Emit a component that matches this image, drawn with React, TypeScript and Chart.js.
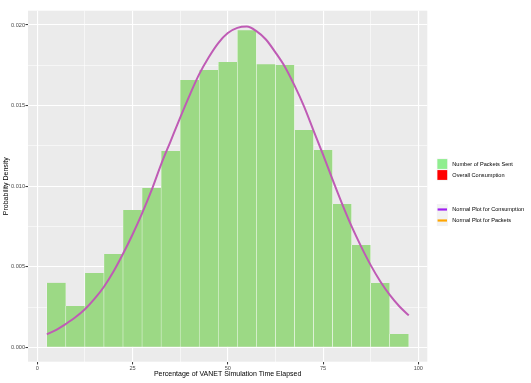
import React, { useEffect, useRef } from 'react';
import { Chart, registerables } from 'chart.js';

Chart.register(...registerables);

// ---- Data ----
const binCenters = [5, 10, 15, 20, 25, 30, 35, 40, 45, 50, 55, 60, 65, 70, 75, 80, 85, 90, 95];
const packetDensity = [
  0.0040, 0.00256, 0.00461, 0.00579, 0.00852, 0.00988, 0.01218, 0.01658, 0.0172, 0.0177,
  0.01968, 0.01757, 0.01751, 0.01348, 0.01224, 0.00889, 0.00635, 0.00399, 0.00083,
];
const curveX = [
  2.5, 5, 7.5, 10, 12.5, 15, 17.5, 20, 22.5, 25, 27.5, 30, 32.5, 35, 37.5, 40, 42.5, 45, 47.5, 50,
  52.5, 55, 57.5, 60, 62.5, 65, 67.5, 70, 72.5, 75, 77.5, 80, 82.5, 85, 87.5, 90, 92.5, 95, 97.5,
];
const curveDensity = [
  0.0008, 0.00108, 0.00145, 0.00186, 0.00236, 0.003, 0.00376, 0.0047, 0.0058, 0.007, 0.00831,
  0.00975, 0.01135, 0.0128, 0.01425, 0.01565, 0.01695, 0.018, 0.01888, 0.0195, 0.01982, 0.0199,
  0.01962, 0.0191, 0.0183, 0.0174, 0.01625, 0.01495, 0.01345, 0.01195, 0.0104, 0.0089, 0.0075,
  0.00625, 0.0051, 0.0041, 0.00325, 0.00255, 0.00198,
];
const xTickValues = [0, 12.5, 25, 37.5, 50, 62.5, 75, 87.5, 100];
const xMajorTicks = [0, 25, 50, 75, 100];
const yTickValues = [0, 0.0025, 0.005, 0.0075, 0.01, 0.0125, 0.015, 0.0175, 0.02];
const yMajorTicks = [0, 0.005, 0.01, 0.015, 0.02];

const barLegend = [
  { label: 'Number of Packets Sent', color: '#90EE90' },
  { label: 'Overall Consumption', color: '#FF0000' },
];
const lineLegend = [
  { label: 'Normal Plot for Consumption', color: '#A020F0' },
  { label: 'Normal Plot for Packets', color: '#FFA500' },
];

const FONT = "'Liberation Sans', Arial, sans-serif";

const isMajor = (v: number, list: number[]) => list.some((m) => Math.abs(m - v) < 1e-9);

const panelBackground = {
  id: 'panelBackground',
  beforeDraw(chart: any) {
    const { ctx, chartArea } = chart;
    const { left, top, right, bottom } = chartArea;
    ctx.save();
    ctx.fillStyle = '#FFFFFF';
    ctx.fillRect(0, 0, chart.width, chart.height);
    ctx.fillStyle = '#EBEBEB';
    ctx.fillRect(left, top, right - left, bottom - top);
    ctx.restore();
  },
};

const customLegend = {
  id: 'customLegend',
  afterDraw(chart: any) {
    const { ctx, chartArea } = chart;
    const keyX = chartArea.right + 9.5;
    const keySize = 11;
    const textX = keyX + keySize + 4.5;
    ctx.save();
    ctx.font = `5.6px ${FONT}`;
    ctx.textBaseline = 'middle';
    ctx.textAlign = 'left';
    // bar legend
    let y = 158.5;
    barLegend.forEach((item) => {
      ctx.fillStyle = '#F2F2F2';
      ctx.fillRect(keyX, y, keySize, keySize);
      ctx.fillStyle = item.color;
      ctx.fillRect(keyX + 0.6, y + 0.6, keySize - 1.2, keySize - 1.2);
      ctx.fillStyle = '#000000';
      ctx.fillText(item.label, textX, y + keySize / 2);
      y += keySize;
    });
    // line legend
    y = 204;
    lineLegend.forEach((item) => {
      ctx.fillStyle = '#F2F2F2';
      ctx.fillRect(keyX, y, keySize, keySize);
      ctx.strokeStyle = item.color;
      ctx.lineWidth = 2.2;
      ctx.beginPath();
      ctx.moveTo(keyX + 0.8, y + keySize / 2);
      ctx.lineTo(keyX + keySize - 0.8, y + keySize / 2);
      ctx.stroke();
      ctx.fillStyle = '#000000';
      ctx.fillText(item.label, textX, y + keySize / 2);
      y += keySize;
    });
    ctx.restore();
  },
};

export default function App() {
  const canvasRef = useRef<HTMLCanvasElement | null>(null);

  useEffect(() => {
    const canvas = canvasRef.current;
    if (!canvas) return;
    const chart = new Chart(canvas, {
      type: 'bar',
      data: {
        datasets: [
          {
            type: 'bar',
            label: 'Number of Packets Sent',
            data: binCenters.map((x, i) => ({ x, y: packetDensity[i] })),
            backgroundColor: '#9CD985',
            borderColor: '#FFFFFF',
            borderWidth: { left: 0.5, right: 0.5, top: 0, bottom: 0 } as any,
            borderSkipped: false,
            barPercentage: 1,
            categoryPercentage: 1,
            order: 2,
          },
          {
            type: 'line',
            label: 'Normal Plot',
            data: curveX.map((x, i) => ({ x, y: curveDensity[i] })),
            borderColor: '#BF5BB5',
            borderWidth: 2,
            pointRadius: 0,
            cubicInterpolationMode: 'monotone',
            fill: false,
            order: 1,
          } as any,
        ],
      },
      options: {
        responsive: false,
        animation: false,
        maintainAspectRatio: false,
        layout: { padding: { left: 0, top: 10.7, right: 103.7, bottom: 0 } },
        plugins: {
          legend: { display: false },
          tooltip: { enabled: false },
          title: { display: false },
        },
        scales: {
          x: {
            type: 'linear',
            min: -2.44,
            max: 102.36,
            offset: false,
            afterBuildTicks: (scale: any) => {
              scale.ticks = xTickValues.map((v) => ({ value: v }));
            },
            afterFit: (scale: any) => {
              scale.height = 21.3;
            },
            border: { display: false },
            grid: {
              offset: false,
              color: '#FFFFFF',
              lineWidth: (c: any) => (isMajor(c.tick?.value, xMajorTicks) ? 1.1 : 0.55),
              drawTicks: true,
              tickLength: 2.7,
              tickColor: (c: any) => (isMajor(c.tick?.value, xMajorTicks) ? '#333333' : 'rgba(0,0,0,0)'),
              tickWidth: 1,
            },
            ticks: {
              autoSkip: false,
              maxRotation: 0,
              padding: 1,
              color: '#4D4D4D',
              font: { family: FONT, size: 5.6 },
              callback: (v: any) => (isMajor(Number(v), xMajorTicks) ? String(v) : ''),
            },
            title: {
              display: true,
              text: 'Percentage of VANET Simulation Time Elapsed',
              color: '#000000',
              font: { family: FONT, size: 7 },
              padding: { top: 0, bottom: 4.5 },
            },
          },
          y: {
            type: 'linear',
            min: -0.000894,
            max: 0.020887,
            afterBuildTicks: (scale: any) => {
              scale.ticks = yTickValues.map((v) => ({ value: v }));
            },
            afterFit: (scale: any) => {
              scale.width = 28;
            },
            border: { display: false },
            grid: {
              color: '#FFFFFF',
              lineWidth: (c: any) => (isMajor(c.tick?.value, yMajorTicks) ? 1.1 : 0.55),
              drawTicks: true,
              tickLength: 2.5,
              tickColor: (c: any) => (isMajor(c.tick?.value, yMajorTicks) ? '#333333' : 'rgba(0,0,0,0)'),
              tickWidth: 1,
            },
            ticks: {
              autoSkip: false,
              padding: 0.5,
              color: '#4D4D4D',
              font: { family: FONT, size: 5.6 },
              callback: (v: any) => (isMajor(Number(v), yMajorTicks) ? Number(v).toFixed(3) : ''),
            },
            title: {
              display: true,
              text: 'Probability Density',
              color: '#000000',
              font: { family: FONT, size: 7 },
              padding: { top: 2.1, bottom: 0 },
            },
          },
        },
      },
      plugins: [panelBackground, customLegend],
    });
    return () => chart.destroy();
  }, []);

  return (
    <div style={{ position: 'absolute', left: 0, top: 0, width: 531, height: 383, background: '#FFFFFF' }}>
      <canvas ref={canvasRef} width={531} height={383} style={{ width: 531, height: 383, display: 'block' }} />
    </div>
  );
}
